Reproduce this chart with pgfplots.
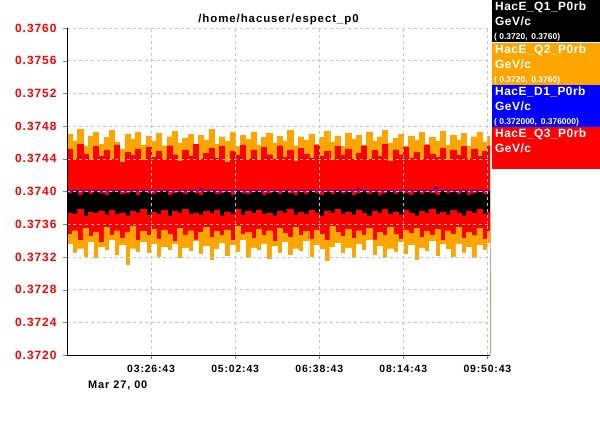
\documentclass[border=0pt]{standalone}
\usepackage{pgfplots}
\pgfplotsset{compat=1.18}
\usepackage{pgfplotstable}
\usepackage{fontspec}
\setmainfont{Liberation Sans}
\newfontfamily\wide[LetterSpace=8]{Liberation Sans}
\newfontfamily\wideb[LetterSpace=4]{Liberation Sans}
\definecolor{ored}{RGB}{255,0,0}
\definecolor{oorange}{RGB}{255,165,0}
\pgfplotstableread{
x oh ol rh rl kh kl
0 0.37470 0.37335 0.37452 0.37348 0.37398 0.37374
6 0.37462 0.37325 0.37440 0.37352 0.37400 0.37372
12 0.37476 0.37330 0.37458 0.37340 0.37396 0.37378
18 0.37455 0.37320 0.37446 0.37355 0.37399 0.37370
24 0.37468 0.37338 0.37438 0.37345 0.37397 0.37375
30 0.37472 0.37318 0.37455 0.37350 0.37400 0.37373
36 0.37458 0.37332 0.37443 0.37338 0.37398 0.37376
42 0.37466 0.37328 0.37450 0.37356 0.37396 0.37371
48 0.37475 0.37340 0.37440 0.37347 0.37399 0.37377
54 0.37460 0.37322 0.37457 0.37352 0.37400 0.37372
60 0.37452 0.37334 0.37436 0.37343 0.37397 0.37374
66 0.37470 0.37310 0.37448 0.37350 0.37398 0.37370
72 0.37464 0.37330 0.37444 0.37358 0.37399 0.37376
78 0.37473 0.37326 0.37452 0.37340 0.37396 0.37373
84 0.37457 0.37338 0.37438 0.37351 0.37400 0.37378
90 0.37468 0.37324 0.37454 0.37346 0.37398 0.37371
96 0.37461 0.37336 0.37442 0.37354 0.37397 0.37375
102 0.37471 0.37320 0.37449 0.37342 0.37399 0.37372
108 0.37456 0.37332 0.37440 0.37353 0.37400 0.37377
114 0.37467 0.37328 0.37456 0.37348 0.37396 0.37370
120 0.37474 0.37335 0.37445 0.37339 0.37398 0.37376
126 0.37459 0.37318 0.37437 0.37355 0.37399 0.37373
132 0.37465 0.37331 0.37451 0.37347 0.37397 0.37378
138 0.37470 0.37327 0.37443 0.37352 0.37400 0.37372
144 0.37454 0.37339 0.37458 0.37341 0.37398 0.37374
150 0.37469 0.37323 0.37439 0.37350 0.37396 0.37371
156 0.37463 0.37333 0.37447 0.37356 0.37399 0.37376
162 0.37476 0.37316 0.37453 0.37344 0.37400 0.37373
168 0.37458 0.37329 0.37441 0.37351 0.37397 0.37377
174 0.37467 0.37337 0.37455 0.37346 0.37398 0.37370
180 0.37461 0.37321 0.37436 0.37353 0.37399 0.37375
186 0.37472 0.37334 0.37449 0.37340 0.37396 0.37372
192 0.37455 0.37326 0.37444 0.37357 0.37400 0.37378
198 0.37469 0.37340 0.37457 0.37348 0.37398 0.37371
204 0.37464 0.37319 0.37440 0.37350 0.37397 0.37376
210 0.37473 0.37331 0.37451 0.37343 0.37399 0.37373
216 0.37457 0.37328 0.37438 0.37354 0.37400 0.37377
222 0.37466 0.37336 0.37454 0.37347 0.37396 0.37372
228 0.37471 0.37317 0.37445 0.37352 0.37398 0.37374
234 0.37459 0.37333 0.37439 0.37339 0.37399 0.37370
240 0.37468 0.37325 0.37456 0.37355 0.37397 0.37376
246 0.37462 0.37338 0.37442 0.37349 0.37400 0.37373
252 0.37475 0.37322 0.37450 0.37344 0.37398 0.37378
258 0.37456 0.37330 0.37437 0.37356 0.37396 0.37371
264 0.37467 0.37327 0.37453 0.37346 0.37399 0.37375
270 0.37463 0.37339 0.37446 0.37351 0.37397 0.37372
276 0.37470 0.37320 0.37441 0.37342 0.37400 0.37377
282 0.37458 0.37334 0.37457 0.37353 0.37398 0.37374
288 0.37466 0.37329 0.37443 0.37348 0.37396 0.37370
294 0.37474 0.37315 0.37449 0.37340 0.37399 0.37376
300 0.37460 0.37332 0.37438 0.37357 0.37397 0.37373
306 0.37468 0.37337 0.37455 0.37350 0.37400 0.37378
312 0.37455 0.37324 0.37444 0.37345 0.37398 0.37372
318 0.37471 0.37331 0.37452 0.37354 0.37399 0.37375
324 0.37464 0.37319 0.37439 0.37343 0.37396 0.37371
330 0.37469 0.37335 0.37447 0.37352 0.37398 0.37377
336 0.37457 0.37328 0.37456 0.37347 0.37400 0.37374
342 0.37473 0.37340 0.37440 0.37355 0.37397 0.37370
348 0.37462 0.37322 0.37450 0.37341 0.37399 0.37376
354 0.37467 0.37333 0.37443 0.37350 0.37396 0.37373
360 0.37475 0.37318 0.37458 0.37346 0.37398 0.37378
366 0.37459 0.37330 0.37437 0.37356 0.37400 0.37372
372 0.37465 0.37326 0.37451 0.37348 0.37397 0.37375
378 0.37470 0.37338 0.37445 0.37342 0.37399 0.37371
384 0.37456 0.37323 0.37454 0.37353 0.37398 0.37377
390 0.37468 0.37334 0.37441 0.37349 0.37396 0.37374
396 0.37463 0.37316 0.37448 0.37355 0.37400 0.37370
402 0.37472 0.37331 0.37439 0.37344 0.37397 0.37376
408 0.37458 0.37327 0.37457 0.37351 0.37399 0.37373
414 0.37466 0.37339 0.37446 0.37347 0.37398 0.37378
420 0.37461 0.37321 0.37442 0.37354 0.37396 0.37372
426 0.37474 0.37335 0.37453 0.37340 0.37400 0.37375
432 0.37457 0.37329 0.37438 0.37352 0.37398 0.37371
438 0.37469 0.37320 0.37450 0.37348 0.37399 0.37377
444 0.37463 0.37336 0.37444 0.37356 0.37397 0.37374
450 0.37471 0.37325 0.37455 0.37343 0.37400 0.37370
456 0.37455 0.37332 0.37440 0.37350 0.37396 0.37376
462 0.37467 0.37318 0.37452 0.37346 0.37398 0.37373
468 0.37473 0.37334 0.37443 0.37355 0.37399 0.37378
474 0.37460 0.37328 0.37449 0.37342 0.37397 0.37372
480 0.37468 0.37337 0.37456 0.37351 0.37400 0.37375
483 0.37464 0.37330 0.37445 0.37349 0.37398 0.37374
}\data
\begin{document}
\begin{tikzpicture}
\path[use as bounding box] (0bp,0bp) rectangle (600bp,425bp);
\begin{axis}[at={(67bp,70bp)},anchor=south west,scale only axis,
  width=423bp,height=327bp,
  xmin=0,xmax=483,ymin=0.3720,ymax=0.3760,
  axis lines*=left, axis line style={thick}, axis on top,
  xtick={96,192,288,384,480},
  xticklabels={03:26:43,05:02:43,06:38:43,08:14:43,09:50:43},
  ytick={0.3720,0.3724,0.3728,0.3732,0.3736,0.3740,0.3744,0.3748,0.3752,0.3756,0.3760},
  yticklabel style={text=red,xshift=-3bp,font=\wide\bfseries\fontsize{12}{13}\selectfont,/pgf/number format/.cd,fixed,fixed zerofill,precision=4},
  xticklabel style={yshift=-3bp,font=\wide\bfseries\fontsize{10.5}{11}\selectfont},
  /pgf/number format/assume math mode=true,
  grid=major, grid style={gray!45,dashed},
  tick align=outside, major tick length=4bp,
  title={\wide\bfseries\fontsize{11.5}{12}\selectfont /home/hacuser/espect\_p0},
  title style={yshift=-6bp}]
\addplot[draw=oorange,fill=oorange,const plot,forget plot] table[x=x,y=oh]{\data} \closedcycle;
\addplot[draw=ored,fill=ored,const plot,forget plot] table[x=x,y=rh]{\data} \closedcycle;
\addplot[draw=black,fill=black,const plot,forget plot] table[x=x,y=kh]{\data} \closedcycle;
\addplot[draw=ored,fill=ored,const plot,forget plot] table[x=x,y=kl]{\data} \closedcycle;
\addplot[draw=oorange,fill=oorange,const plot,forget plot] table[x=x,y=rl]{\data} \closedcycle;
\addplot[draw=white,fill=white,const plot,forget plot] table[x=x,y=ol]{\data} \closedcycle;
\addplot[blue,thick] coordinates {(0,0.37401) (150,0.37401) (153,0.37404) (156,0.37401) (330,0.37401) (333,0.37404) (336,0.37401) (418,0.37401) (421,0.37406) (424,0.37401) (483,0.37401)};
\end{axis}
\node[anchor=north west,font=\wide\bfseries\fontsize{11}{12}\selectfont,inner sep=0pt] at (88bp,44bp) {Mar 27, 00};
\foreach \yt/\c/\l/\r in {425/black/HacE\_Q1\_P0rb/{( 0.3720,\, 0.3760)},382/oorange/HacE\_Q2\_P0rb/{( 0.3720,\, 0.3760)},340/blue/HacE\_D1\_P0rb/{( 0.372000,\, 0.376000)},298/ored/HacE\_Q3\_P0rb/{}}{
  \fill[\c] (492bp,\yt bp) rectangle (600bp,\yt bp-42bp);
  \node[anchor=north west,text=white,font=\wideb\bfseries\fontsize{12}{15}\selectfont,inner sep=0pt,align=left] at (495bp,\yt bp-2bp) {\l\\GeV/c};
  \node[anchor=south west,text=white,font=\bfseries\fontsize{8.5}{9}\selectfont,inner sep=0pt] at (494bp,\yt bp-41bp) {\r};
}
\end{tikzpicture}
\end{document}
